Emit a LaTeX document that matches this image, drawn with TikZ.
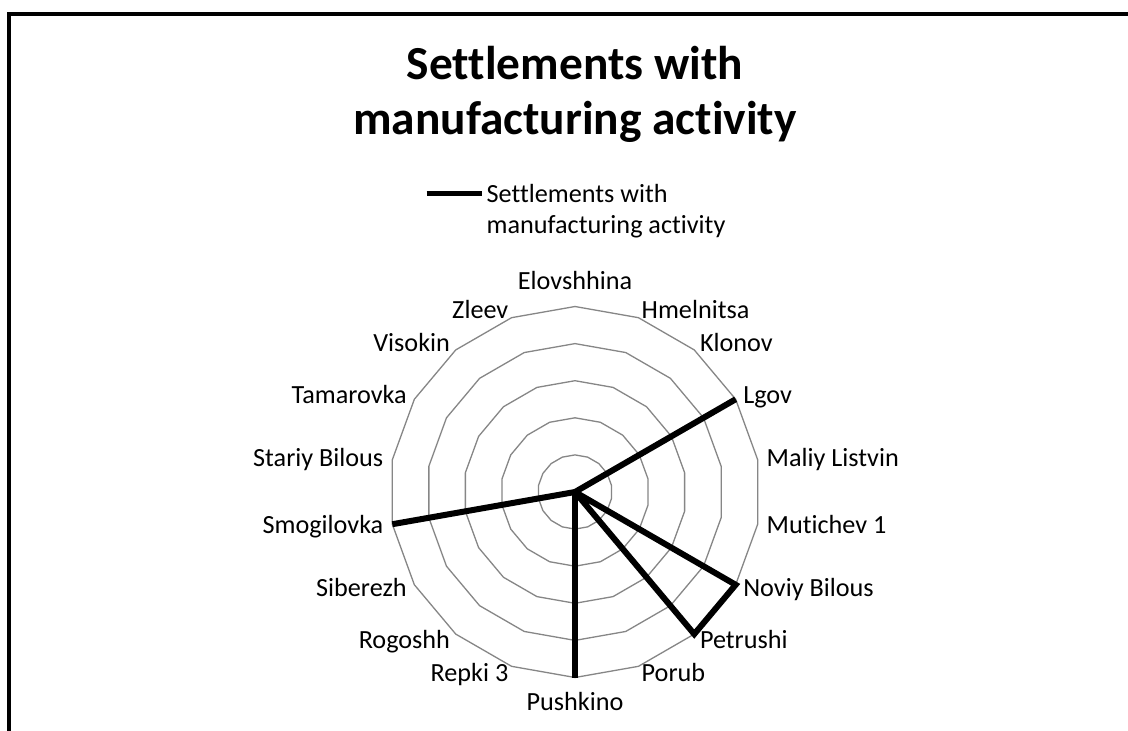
\documentclass[tikz,border=0pt]{standalone}
\usepackage{fontspec}
\setmainfont{Carlito}[Ligatures=NoCommon]
\usetikzlibrary{calc}
\definecolor{gridgray}{RGB}{134,134,134}
\tikzset{
  gridline/.style={draw=gridgray, line width=1.3pt, line join=miter},
  dataline/.style={draw=black, line width=6pt, line join=miter},
  legendline/.style={draw=black, line width=5pt},
  framepen/.style={draw=black, line width=4pt, line join=miter},
  axislabel/.style={inner sep=0pt, outer sep=0pt, font=\fontsize{26.2}{30.6}\selectfont},
  titletext/.style={inner sep=0pt, outer sep=0pt, align=center, font=\fontsize{47.4}{55}\selectfont\bfseries},
}
\begin{document}
\begin{tikzpicture}[x=1pt,y=1pt]
\useasboundingbox (0,0) rectangle (1128,-731);
\fill[white] (0,0) rectangle (1128,-731);
% frame (partly outside the picture)
\coordinate (fbl) at (9,-731);
\coordinate (ftl) at (9,-13.5);
\coordinate (ftr) at (1128,-13.5);
\draw[framepen] (fbl) -- (ftl) -- (ftr);
% title (base anchor = baseline of the last line)
\node[titletext, anchor=base] (title) at (575,-134) {Settlements with\\manufacturing activity};
% legend
\coordinate (lg1) at (426.7,-193.3);
\coordinate (lg2) at (481.7,-193.3);
\draw[legendline] (lg1) -- (lg2);
\node[axislabel, anchor=base west, align=left] (legtext) at (486.7,-233.3) {Settlements with\\manufacturing activity};
% radar grid
\coordinate (c) at (575,-492);
\begin{scope}[shift={(575,-492)}]
\foreach \i in {1,...,5}{
  \draw[gridline] (90:37.1*\i) \foreach \k in {1,...,17}{ -- (90-20*\k:37.1*\i)} -- cycle;
}
\end{scope}
\foreach \k in {0,...,17}{
  \coordinate (v\k) at ($(c)+(90-20*\k:185.5)$);
}
% data series
\draw[dataline] (c) -- (v3);
\draw[dataline] (c) -- (v6) -- (v7) -- (c);
\draw[dataline] (c) -- (v9);
\draw[dataline] (c) -- (v13);
% category labels
\node[axislabel, anchor=base] (l0) at (575,-289) {Elovshhina};
\node[axislabel, anchor=base west] (l1) at (641.7,-318) {Hmelnitsa};
\node[axislabel, anchor=base west] (l2) at (700,-351) {Klonov};
\node[axislabel, anchor=base west] (l3) at (743.3,-403.3) {Lgov};
\node[axislabel, anchor=base west] (l4) at (766.7,-466.7) {Maliy Listvin};
\node[axislabel, anchor=base west] (l5) at (766.7,-533.3) {Mutichev 1};
\node[axislabel, anchor=base west] (l6) at (743.3,-596) {Noviy Bilous};
\node[axislabel, anchor=base west] (l7) at (700,-648.5) {Petrushi};
\node[axislabel, anchor=base west] (l8) at (641.7,-681.7) {Porub};
\node[axislabel, anchor=base] (l9) at (575,-710.7) {Pushkino};
\node[axislabel, anchor=base east] (l10) at (508.3,-681.7) {Repki 3};
\node[axislabel, anchor=base east] (l11) at (450,-648.5) {Rogoshh};
\node[axislabel, anchor=base east] (l12) at (406.7,-596) {Siberezh};
\node[axislabel, anchor=base east] (l13) at (383.3,-533.3) {Smogilovka};
\node[axislabel, anchor=base east] (l14) at (383.3,-466.7) {Stariy Bilous};
\node[axislabel, anchor=base east] (l15) at (406.7,-403.3) {Tamarovka};
\node[axislabel, anchor=base east] (l16) at (450,-351) {Visokin};
\node[axislabel, anchor=base east] (l17) at (508.3,-318) {Zleev};
\end{tikzpicture}
\end{document}
